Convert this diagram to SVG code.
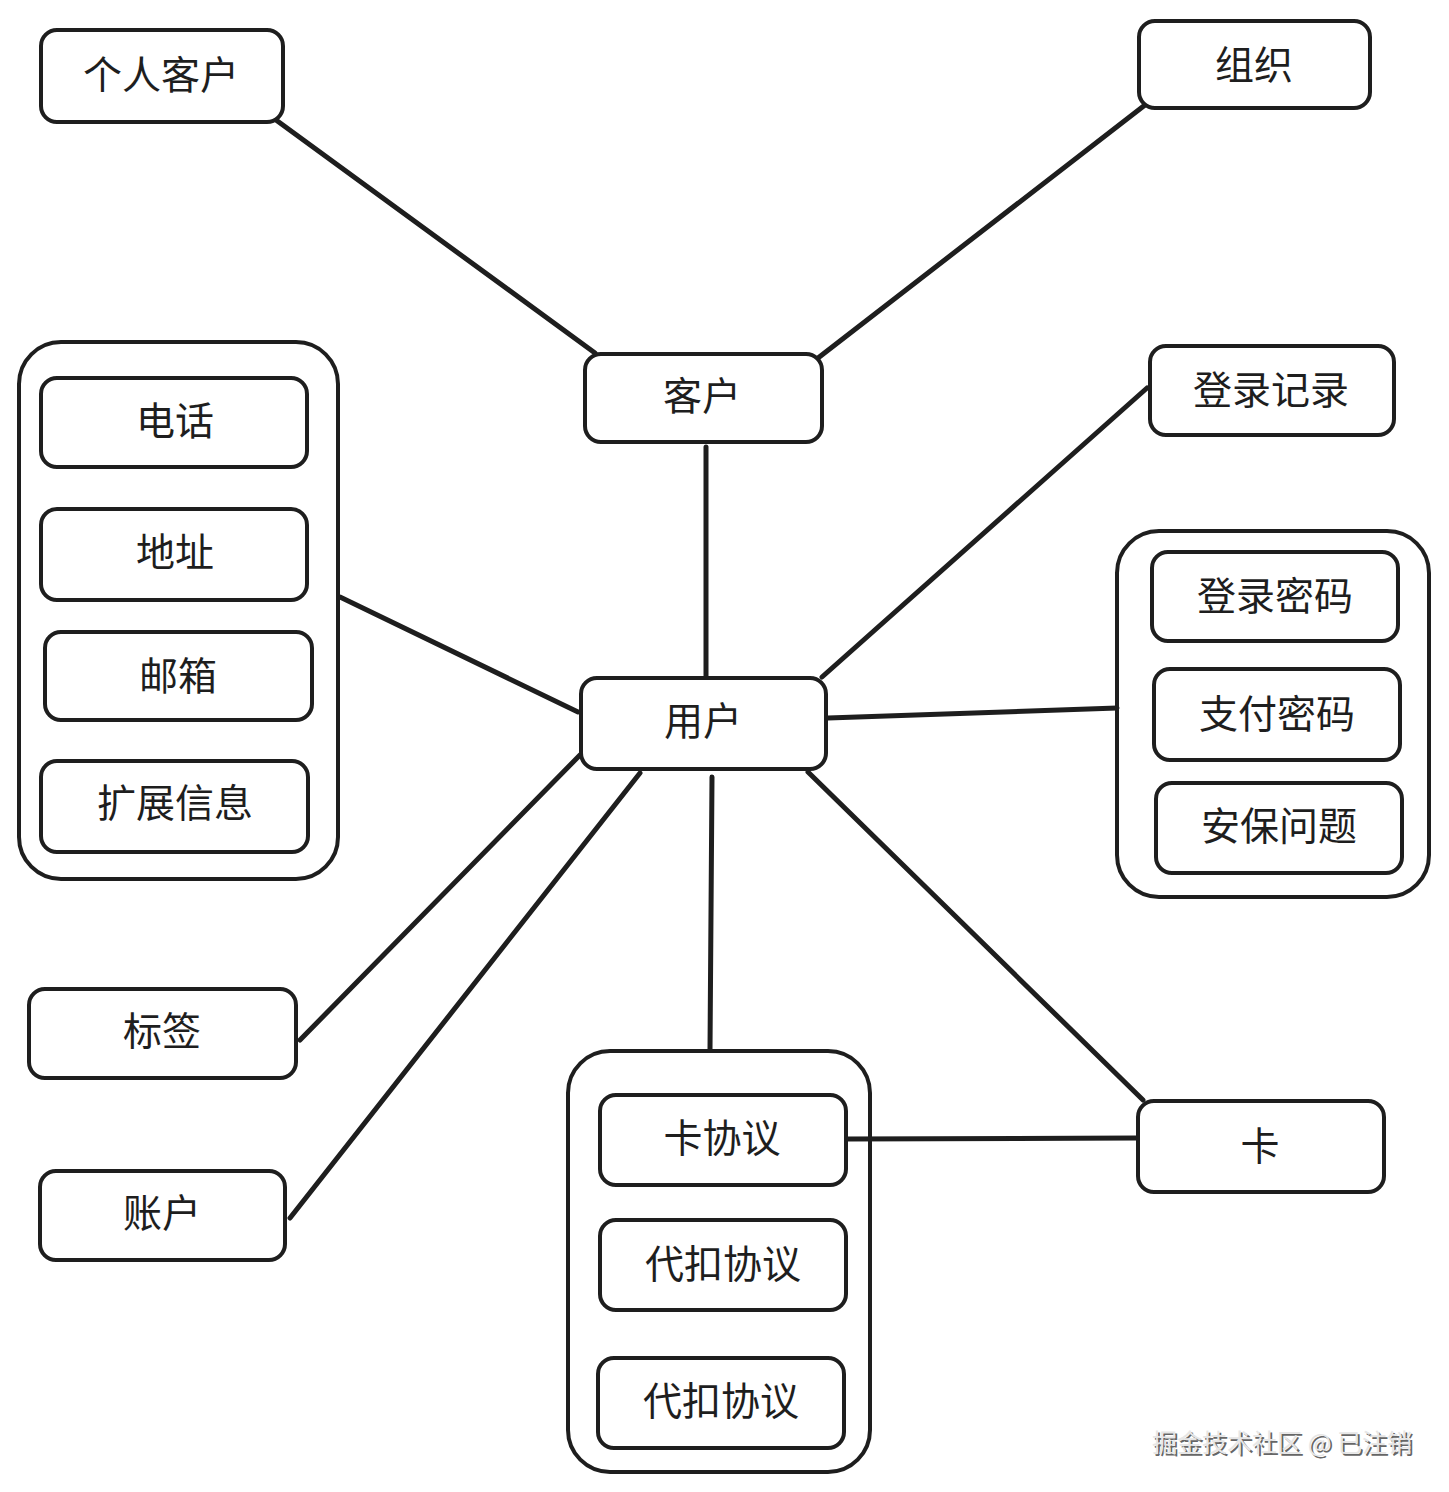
<svg xmlns="http://www.w3.org/2000/svg" width="1449" height="1492" viewBox="0 0 1449 1492">
<style>
.box{fill:#fff;stroke:#1e1e1e;stroke-width:4}
.grp{fill:none;stroke:#1e1e1e;stroke-width:4}
.lbl{font-family:"Noto Sans CJK SC","Noto Sans",sans-serif;font-size:39px;fill:#1e1e1e;text-anchor:middle;dominant-baseline:central}
.ln{stroke:#1e1e1e;stroke-width:5;stroke-linecap:round;fill:none}
.wm{font-family:"Noto Sans CJK SC","Noto Sans",sans-serif;font-size:25px;text-anchor:middle;dominant-baseline:central}
</style>
<rect width="1449" height="1492" fill="#fff"/>
<g id="connectors">
<line class="ln" x1="276" y1="120" x2="595" y2="353"/>
<line class="ln" x1="1145" y1="105" x2="818" y2="358"/>
<line class="ln" x1="706" y1="447" x2="706" y2="676"/>
<line class="ln" x1="1147" y1="388" x2="822" y2="677"/>
<line class="ln" x1="340" y1="597" x2="578" y2="712"/>
<line class="ln" x1="1117" y1="708" x2="828" y2="718"/>
<line class="ln" x1="300" y1="1040" x2="580" y2="755"/>
<line class="ln" x1="290" y1="1218" x2="640" y2="773"/>
<line class="ln" x1="712" y1="777" x2="710" y2="1050"/>
<line class="ln" x1="808" y1="772" x2="1143" y2="1100"/>
<line class="ln" x1="846" y1="1139" x2="1137" y2="1138"/>
</g>
<g id="grp-left"><rect class="grp" x="19" y="342" width="319" height="537" rx="42"/></g>
<g id="grp-right"><rect class="grp" x="1117" y="531" width="312" height="366" rx="42"/></g>
<g id="grp-bottom"><rect class="grp" x="568" y="1051" width="302" height="421" rx="42"/></g>
<g id="n-geren"><rect class="box" x="41" y="30" width="242" height="92" rx="16"/><text class="lbl" x="161" y="72">个人客户</text></g>
<g id="n-zuzhi"><rect class="box" x="1139" y="21" width="231" height="87" rx="16"/><text class="lbl" x="1254" y="62">组织</text></g>
<g id="n-kehu"><rect class="box" x="585" y="354" width="237" height="88" rx="16"/><text class="lbl" x="702" y="393">客户</text></g>
<g id="n-denglujilu"><rect class="box" x="1150" y="346" width="244" height="89" rx="16"/><text class="lbl" x="1271" y="387">登录记录</text></g>
<g id="n-dianhua"><rect class="box" x="41" y="378" width="266" height="89" rx="16"/><text class="lbl" x="175" y="418">电话</text></g>
<g id="n-dizhi"><rect class="box" x="41" y="509" width="266" height="91" rx="16"/><text class="lbl" x="175" y="549">地址</text></g>
<g id="n-youxiang"><rect class="box" x="45" y="632" width="267" height="88" rx="16"/><text class="lbl" x="178" y="673">邮箱</text></g>
<g id="n-kuozhan"><rect class="box" x="41" y="761" width="267" height="91" rx="16"/><text class="lbl" x="175" y="800">扩展信息</text></g>
<g id="n-yonghu"><rect class="box" x="581" y="678" width="245" height="91" rx="16"/><text class="lbl" x="703" y="718">用户</text></g>
<g id="n-denglumima"><rect class="box" x="1152" y="552" width="246" height="89" rx="16"/><text class="lbl" x="1275" y="593">登录密码</text></g>
<g id="n-zhifumima"><rect class="box" x="1154" y="669" width="246" height="91" rx="16"/><text class="lbl" x="1277" y="711">支付密码</text></g>
<g id="n-anbao"><rect class="box" x="1156" y="783" width="246" height="90" rx="16"/><text class="lbl" x="1279" y="823">安保问题</text></g>
<g id="n-biaoqian"><rect class="box" x="29" y="989" width="267" height="89" rx="16"/><text class="lbl" x="162" y="1028">标签</text></g>
<g id="n-zhanghu"><rect class="box" x="40" y="1171" width="245" height="89" rx="16"/><text class="lbl" x="162" y="1210">账户</text></g>
<g id="n-kaxieyi"><rect class="box" x="600" y="1095" width="246" height="90" rx="16"/><text class="lbl" x="722" y="1135">卡协议</text></g>
<g id="n-daikou1"><rect class="box" x="600" y="1220" width="246" height="90" rx="16"/><text class="lbl" x="723" y="1261">代扣协议</text></g>
<g id="n-daikou2"><rect class="box" x="598" y="1358" width="246" height="90" rx="16"/><text class="lbl" x="721" y="1398">代扣协议</text></g>
<g id="n-ka"><rect class="box" x="1138" y="1101" width="246" height="91" rx="16"/><text class="lbl" x="1260" y="1143">卡</text></g>
<g id="watermark">
<text class="wm" x="1284" y="1443" fill="#666">掘金技术社区 @ 已注销</text>
<text class="wm" x="1282" y="1441" fill="#e6e6e6">掘金技术社区 @ 已注销</text>
</g>
</svg>
